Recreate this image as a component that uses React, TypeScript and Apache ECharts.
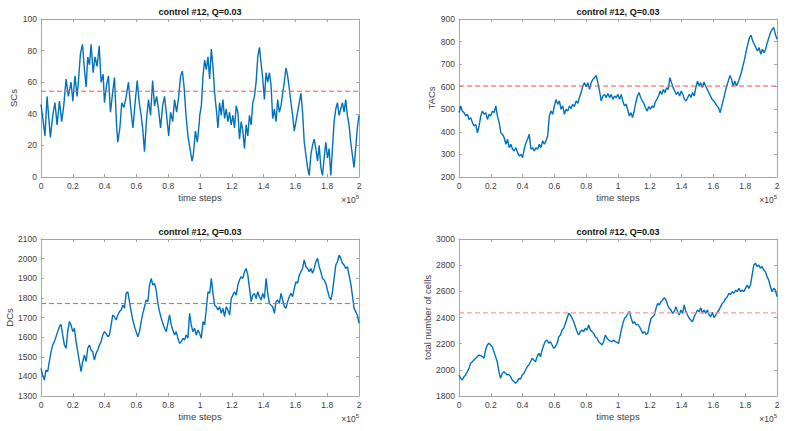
import React, { useEffect, useRef } from "react";
import * as echarts from "echarts";

const TITLE = "control #12, Q=0.03";
const X_LABEL = "time steps";
const Y_LABELS = ["SCs", "TACs", "DCs", "total number of cells"];

// time in units of 10^5 steps
const scTimeA = [0, 0.025, 0.038, 0.059, 0.074, 0.088, 0.101, 0.116, 0.13, 0.143, 0.158, 0.172, 0.189, 0.2, 0.214, 0.227, 0.235, 0.248, 0.261, 0.273, 0.284, 0.294, 0.305, 0.315, 0.328, 0.34, 0.353, 0.366, 0.378, 0.391, 0.399, 0.412, 0.424, 0.437, 0.45, 0.462, 0.475, 0.483, 0.496, 0.508, 0.521, 0.536, 0.55, 0.563, 0.578, 0.592, 0.605, 0.618, 0.63, 0.641, 0.651, 0.664, 0.676, 0.689, 0.702, 0.714, 0.727, 0.739, 0.752, 0.765, 0.777, 0.79, 0.803, 0.815, 0.828, 0.84, 0.853, 0.866, 0.878, 0.889, 0.899, 0.912, 0.924, 0.937, 0.95, 0.958, 0.971, 0.983, 0.996];
const scValuesA = [46, 26, 51, 25, 39, 47, 33, 48, 35, 45, 62, 51, 60, 48, 64, 51, 60, 78, 84, 68, 57, 76, 71, 84, 66, 76, 70, 83, 60, 65, 47, 58, 64, 41, 53, 63, 33, 22, 31, 47, 44, 51, 60, 45, 31, 47, 61, 47, 39, 29, 16, 37, 49, 39, 61, 45, 51, 43, 31, 45, 51, 39, 26, 41, 35, 49, 41, 51, 64, 67, 58, 39, 26, 18, 10, 14, 29, 22, 35];
const scValuesB = [39, 45, 64, 74, 68, 76, 62, 81, 70, 53, 43, 31, 47, 39, 49, 37, 43, 35, 41, 33, 39, 31, 45, 41, 24, 35, 29, 18, 33, 26, 39, 33, 47, 51, 60, 76, 82, 72, 62, 49, 66, 60, 66, 58, 37, 43, 35, 49, 41, 45, 53, 60, 69, 64, 56, 47, 39, 29, 35, 41, 47, 53, 41, 22, 14, 6, 1, 14, 20, 24, 18, 10, 20, 6, 1, 12, 22, 12, 18, 1, 18, 35, 43, 47, 39, 43, 47, 41, 49, 39, 33, 22, 14, 6, 18, 31, 39];
const scSpanB = [0.998, 2.0];

const tacValuesA = [485, 515, 492, 485, 470, 478, 455, 463, 441, 426, 433, 396, 426, 470, 492, 478, 485, 455, 478, 470, 492, 485, 515, 470, 441, 396, 389, 374, 345, 367, 330, 345, 323, 315, 330, 308, 293, 300, 286, 323, 352, 367, 389, 323, 330, 315, 330, 323, 345, 330, 360, 345, 360, 382, 470, 492, 478, 515, 544, 522, 537, 500, 515, 478, 500, 492, 515, 503, 522, 512, 537, 526, 552, 574, 603, 618, 600, 618, 588, 618, 633, 640, 650, 618, 581, 537, 559, 566, 552, 570, 552, 566, 544, 559, 552, 566, 544];
const tacSpanA = [0, 1.01];
const tacValuesB = [566, 537, 515, 522, 500, 470, 485, 463, 492, 529, 559, 574, 552, 537, 526, 507, 492, 512, 500, 515, 507, 532, 544, 559, 581, 566, 588, 574, 596, 588, 640, 618, 596, 581, 566, 577, 559, 581, 566, 544, 537, 552, 566, 552, 574, 559, 596, 625, 603, 618, 596, 621, 603, 588, 574, 559, 544, 537, 526, 515, 507, 485, 515, 544, 574, 603, 625, 650, 633, 603, 625, 603, 618, 640, 662, 692, 721, 758, 788, 817, 828, 803, 788, 773, 758, 773, 744, 766, 751, 766, 795, 817, 840, 854, 862, 832, 810];
const tacSpanB = [1.02, 2.0];

const dcValuesA = [1441, 1407, 1381, 1432, 1424, 1475, 1526, 1560, 1577, 1602, 1628, 1653, 1665, 1611, 1560, 1543, 1628, 1679, 1662, 1628, 1645, 1577, 1526, 1475, 1424, 1475, 1509, 1475, 1543, 1560, 1534, 1526, 1483, 1517, 1534, 1560, 1577, 1611, 1628, 1619, 1602, 1611, 1662, 1713, 1704, 1687, 1713, 1730, 1738, 1763, 1747, 1823, 1831, 1781, 1730, 1687, 1653, 1628, 1602, 1628, 1679, 1721, 1755, 1789, 1781, 1865, 1899, 1865, 1874, 1840, 1772, 1730, 1696, 1670, 1645, 1628, 1670, 1713, 1662, 1636, 1611, 1628, 1594, 1568, 1577, 1594, 1585, 1611, 1594, 1721, 1662, 1628, 1645, 1611, 1636, 1619, 1594];
const dcSpanA = [0, 1.008];
const dcValuesB = [1679, 1662, 1747, 1831, 1823, 1899, 1823, 1763, 1755, 1738, 1755, 1721, 1747, 1704, 1755, 1738, 1713, 1797, 1814, 1831, 1814, 1865, 1891, 1908, 1899, 1933, 1950, 1916, 1848, 1781, 1814, 1823, 1797, 1831, 1806, 1789, 1823, 1797, 1899, 1823, 1772, 1763, 1755, 1721, 1781, 1789, 1772, 1823, 1789, 1755, 1747, 1781, 1806, 1823, 1806, 1848, 1882, 1874, 1916, 1933, 1950, 1993, 1959, 1950, 1933, 1950, 1925, 1950, 1984, 2001, 1959, 1933, 1899, 1891, 1874, 1840, 1806, 1789, 1831, 1899, 1967, 1984, 2018, 2001, 1976, 1967, 1950, 1959, 1916, 1874, 1814, 1747, 1730, 1713, 1670];
const dcSpanB = [1.019, 2.0];

const totalValuesA = [1961, 1935, 1922, 1948, 1961, 1986, 2011, 2050, 2062, 2075, 2088, 2101, 2113, 2108, 2101, 2088, 2152, 2190, 2203, 2190, 2177, 2139, 2101, 2062, 1986, 1935, 1973, 1986, 1973, 1961, 1966, 1948, 1922, 1910, 1897, 1910, 1935, 1930, 1961, 1973, 1999, 2024, 2037, 2062, 2088, 2075, 2062, 2101, 2126, 2101, 2152, 2190, 2220, 2228, 2203, 2215, 2190, 2164, 2177, 2203, 2253, 2266, 2304, 2317, 2355, 2394, 2432, 2419, 2394, 2368, 2330, 2292, 2266, 2292, 2304, 2292, 2317, 2304, 2343, 2304, 2292, 2279, 2253, 2241, 2215, 2203, 2190, 2215, 2266, 2241, 2228, 2220, 2215, 2228, 2215, 2210, 2203];
const totalSpanA = [0, 1.004];
const totalValuesB = [2241, 2304, 2355, 2394, 2406, 2432, 2445, 2394, 2355, 2368, 2343, 2348, 2330, 2304, 2279, 2292, 2271, 2279, 2343, 2394, 2406, 2419, 2470, 2508, 2496, 2521, 2534, 2552, 2534, 2496, 2470, 2457, 2432, 2445, 2483, 2445, 2419, 2457, 2432, 2496, 2445, 2419, 2394, 2381, 2368, 2406, 2432, 2457, 2445, 2475, 2432, 2457, 2432, 2457, 2419, 2406, 2440, 2399, 2419, 2440, 2457, 2483, 2508, 2521, 2546, 2559, 2585, 2577, 2597, 2585, 2610, 2597, 2623, 2597, 2610, 2597, 2623, 2648, 2623, 2648, 2725, 2801, 2814, 2789, 2801, 2776, 2789, 2763, 2750, 2712, 2687, 2636, 2597, 2623, 2610, 2559];
const totalSpanB = [1.01, 2.0];

const MEANS = [54.3, 603, 1771, 2435];
const X_RANGE = [0, 2];
const Y_RANGES = [
  [0, 100, 20],
  [200, 900, 100],
  [1300, 2100, 100],
  [1800, 3000, 200],
];

const spanTimes = (span: number[], n: number) =>
  Array.from({ length: n }, (_, i) => span[0] + ((span[1] - span[0]) * i) / (n - 1));
const pairs = (t: number[], v: number[]) => v.map((y, i) => [t[i], y]);

const seriesData = [
  [...pairs(scTimeA, scValuesA), ...pairs(spanTimes(scSpanB, scValuesB.length), scValuesB)],
  [...pairs(spanTimes(tacSpanA, tacValuesA.length), tacValuesA), ...pairs(spanTimes(tacSpanB, tacValuesB.length), tacValuesB)],
  [...pairs(spanTimes(dcSpanA, dcValuesA.length), dcValuesA), ...pairs(spanTimes(dcSpanB, dcValuesB.length), dcValuesB)],
  [...pairs(spanTimes(totalSpanA, totalValuesA.length), totalValuesA), ...pairs(spanTimes(totalSpanB, totalValuesB.length), totalValuesB)],
];

const FONT = "'Liberation Sans', Arial, Helvetica, sans-serif";
const AXIS_COLOR = "#a6a6a6";
const TEXT_COLOR = "#404040";

const layout = [
  { left: 41, top: 19, w: 318, h: 158, gap: 21, meanColor: "#ff5050", meanWidth: 1 },
  { left: 459, top: 19, w: 318, h: 158, gap: 20, meanColor: "#ff5050", meanWidth: 1 },
  { left: 41, top: 239, w: 318, h: 157, gap: 23, meanColor: "#ff5050", meanWidth: 1 },
  { left: 459, top: 239, w: 318, h: 157, gap: 22, meanColor: "#f79a9a", meanWidth: 1.4 },
];

export default function App() {
  const ref = useRef<HTMLDivElement>(null);
  useEffect(() => {
    if (!ref.current) return;
    const chart = echarts.init(ref.current, null, { renderer: "svg" });
    const xFmt = (v: number) => String(Math.round(v * 10) / 10);
    const yFmt = (v: number) => String(v);
    const grids = layout.map((p) => ({ left: p.left, top: p.top, width: p.w, height: p.h, containLabel: false }));
    const baseX = (i: number, pos: string) => ({
      type: "value",
      gridIndex: i,
      position: pos,
      min: X_RANGE[0],
      max: X_RANGE[1],
      interval: 0.2,
      axisLine: { show: true, onZero: false, lineStyle: { color: AXIS_COLOR, width: 1 } },
      axisTick: { show: true, inside: true, length: 3, lineStyle: { color: AXIS_COLOR } },
      splitLine: { show: false },
      axisLabel: {
        show: pos === "bottom",
        formatter: xFmt,
        color: TEXT_COLOR,
        fontSize: 8.5,
        fontFamily: FONT,
        margin: 4,
      },
      name: pos === "bottom" ? X_LABEL : "",
      nameLocation: "middle",
      nameGap: 15,
      nameTextStyle: { color: TEXT_COLOR, fontSize: 9.5, fontFamily: FONT },
    });
    const baseY = (i: number, pos: string) => ({
      type: "value",
      gridIndex: i,
      position: pos,
      min: Y_RANGES[i][0],
      max: Y_RANGES[i][1],
      interval: Y_RANGES[i][2],
      axisLine: { show: true, onZero: false, lineStyle: { color: AXIS_COLOR, width: 1 } },
      axisTick: { show: true, inside: true, length: 3, lineStyle: { color: AXIS_COLOR } },
      splitLine: { show: false },
      axisLabel: {
        show: pos === "left",
        formatter: yFmt,
        color: TEXT_COLOR,
        fontSize: 8.5,
        fontFamily: FONT,
        margin: 4,
      },
      name: pos === "left" ? Y_LABELS[i] : "",
      nameLocation: "middle",
      nameGap: layout[i].gap,
      nameTextStyle: { color: TEXT_COLOR, fontSize: 9.5, fontFamily: FONT },
    });
    const dataSeries = seriesData.map((d, i) => ({
      type: "line",
      xAxisIndex: i,
      yAxisIndex: i,
      data: d,
      showSymbol: false,
      symbol: "none",
      lineStyle: { color: "#0072BD", width: 1.4 },
      silent: true,
      z: 2,
    }));
    const meanSeries = MEANS.map((m, i) => ({
      type: "line",
      xAxisIndex: i,
      yAxisIndex: i,
      data: [
        [X_RANGE[0], m],
        [X_RANGE[1], m],
      ],
      showSymbol: false,
      symbol: "none",
      lineStyle: { color: layout[i].meanColor, type: [5, 3], width: layout[i].meanWidth },
      silent: true,
      z: 3,
    }));
    const option: any = {
      animation: false,
      backgroundColor: "#ffffff",
      title: layout.map((p) => ({
        text: TITLE,
        left: p.left + p.w / 2,
        top: p.top - 12,
        textAlign: "center",
        padding: 0,
        textStyle: { fontSize: 9, fontWeight: "bold", color: "#111", fontFamily: FONT },
      })),
      grid: grids,
      xAxis: [
        ...layout.map((_, i) => baseX(i, "bottom")),
        ...layout.map((_, i) => baseX(i, "top")),
      ],
      yAxis: [
        ...layout.map((_, i) => baseY(i, "left")),
        ...layout.map((_, i) => baseY(i, "right")),
      ],
      series: [...dataSeries, ...meanSeries],
      graphic: layout.map((p) => ({
        type: "text",
        x: p.left + p.w,
        y: p.top + p.h + 23,
        style: {
          text: "{a|×10}{b|5}",
          align: "right",
          verticalAlign: "middle",
          rich: {
            a: { fontSize: 8.5, fontFamily: FONT, fill: TEXT_COLOR, color: TEXT_COLOR },
            b: { fontSize: 6, fontFamily: FONT, fill: TEXT_COLOR, color: TEXT_COLOR, verticalAlign: "top", padding: [0, 0, 6, 0] },
          },
        },
      })),
    };
    chart.setOption(option);
    return () => chart.dispose();
  }, []);
  return (
    <div
      ref={ref}
      style={{ position: "fixed", left: 0, top: 0, width: 788, height: 431, background: "#fff" }}
    />
  );
}
